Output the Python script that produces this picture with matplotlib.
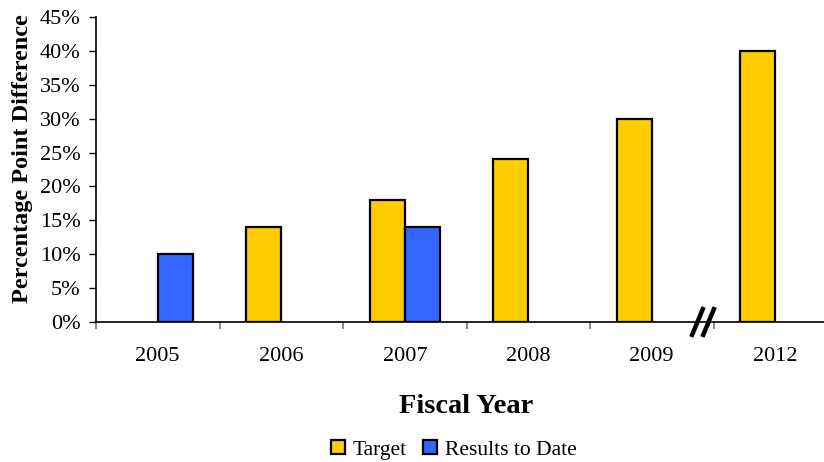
import numpy as np
import matplotlib.pyplot as plt
from matplotlib.patches import Patch
from matplotlib.ticker import FuncFormatter

plt.rcParams['font.family'] = ['Liberation Serif', 'DejaVu Serif']

years = ['2005', '2006', '2007', '2008', '2009', '2012']
target = [np.nan, 14, 18, 24, 30, 40]
results = [10, np.nan, 14, np.nan, np.nan, np.nan]

yellow = '#FFCC00'
blue = '#3366FF'

fig = plt.figure(figsize=(8.24, 4.62), dpi=100)
ax = fig.add_axes([96 / 824, 140 / 462, 741 / 824, 305 / 462])

x = np.arange(len(years))
w = 0.285
ax.bar(x, target, width=-w, align='edge', color=yellow, edgecolor='black', linewidth=1.6)
ax.bar(x, results, width=w, align='edge', color=blue, edgecolor='black', linewidth=1.6)

ax.set_xlim(-0.5, len(years) - 0.5)
ax.set_ylim(0, 45)
ax.set_yticks(np.arange(0, 46, 5))
ax.yaxis.set_major_formatter(FuncFormatter(lambda v, p: '%d%%' % v))
ax.tick_params(axis='y', labelsize=16, length=5, width=1, direction='out', pad=6)

# category labels at the centres, tick marks between categories
ax.set_xticks(x)
ax.set_xticklabels(years)
ax.set_xticks(np.arange(-0.5, len(years), 1), minor=True)
ax.tick_params(axis='x', which='major', length=0, labelsize=16, pad=18)
ax.tick_params(axis='x', which='minor', length=5, width=1.2, color='#777777')

for side in ['top', 'right']:
    ax.spines[side].set_visible(False)
ax.spines['left'].set_linewidth(1.2)
ax.spines['bottom'].set_linewidth(1.2)

ax.set_ylabel('Percentage Point Difference', fontsize=17.5, fontweight='bold')
ax.yaxis.set_label_coords(-0.085, 0.535)
ax.set_xlabel('Fiscal Year', fontsize=20.5, fontweight='bold', labelpad=20)

# axis break between 2009 and 2012
trans = ax.get_xaxis_transform()
for dx in (0.0, 0.09):
    ax.plot([4.32 + dx, 4.42 + dx], [-0.049, 0.049], transform=trans, color='black',
            linewidth=3.2, clip_on=False, solid_capstyle='butt')

handles = [Patch(facecolor=yellow, edgecolor='black', linewidth=1.6, label='Target'),
           Patch(facecolor=blue, edgecolor='black', linewidth=1.6, label='Results to Date')]
fig.legend(handles=handles, loc='center', bbox_to_anchor=(454 / 824, 1 - 450 / 462), ncol=2,
           frameon=False, fontsize=15.5, handlelength=0.65, handleheight=0.65,
           handletextpad=0.35, columnspacing=0.75, borderpad=0)

fig.savefig('out.png', dpi=100)
